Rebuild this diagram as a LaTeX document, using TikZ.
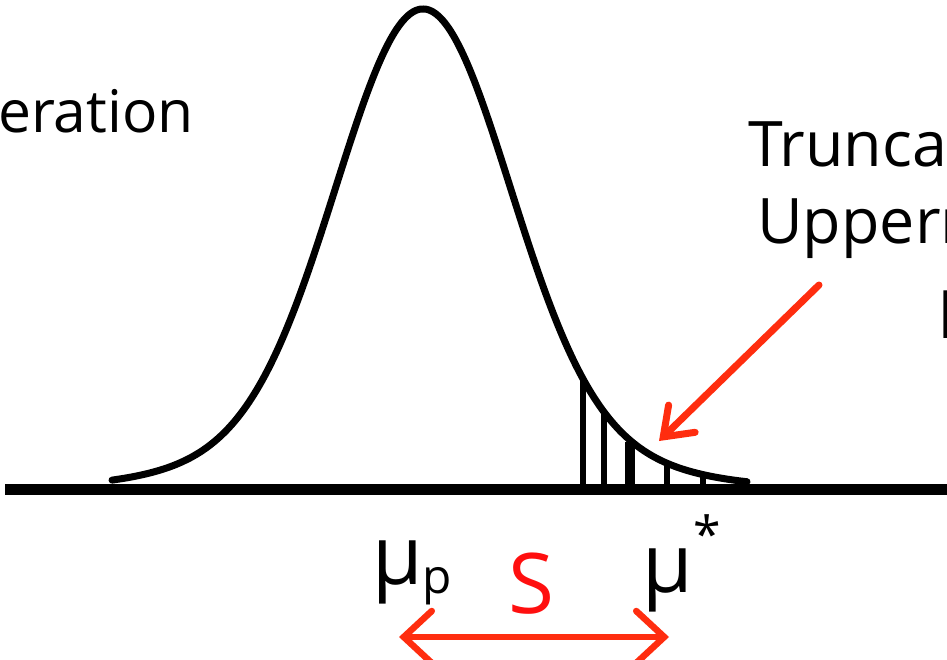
\documentclass[tikz,border=0pt]{standalone}
\usepackage{fontspec}
\setmainfont{Open Sans}
\usetikzlibrary{arrows.meta}
\definecolor{arrowred}{RGB}{255,45,15}
\definecolor{sred}{RGB}{255,15,15}
\tikzset{
  curveline/.style={line width=7bp, line cap=round, line join=round},
  axisline/.style={line width=11bp},
  hatchline/.style={line width=#1},
  redarrow/.style={draw=arrowred, line width=7bp, line cap=round,
    -{Straight Barb[length=26bp,width=38bp,line cap=round]}},
  sarrow/.style={draw=arrowred, line width=6.5bp, line cap=round,
    {Straight Barb[length=28bp,width=52bp,line cap=round]}-{Straight Barb[length=28bp,width=52bp,line cap=round]}},
  bigtext/.style={inner sep=0pt, anchor=base west, font=\fontsize{59}{70}\selectfont},
  righttext/.style={inner sep=0pt, anchor=base west, font=\fontsize{63}{70}\selectfont},
}
\begin{document}
\begin{tikzpicture}[x=1bp,y=-1bp]
\clip (0,0) rectangle (947,660);
\fill[white] (0,0) rectangle (947,660);
% axis
\coordinate (axL) at (5,489);
\coordinate (axR) at (960,489);
\draw[axisline] (axL) -- (axR);
% bell curve (heavy tailed)
\draw[curveline] plot[domain=112:747, samples=260, smooth]
  (\x,{489-480*(0.85*exp(-((\x-423)/85)^2/2)+0.15*exp(-((\x-423)/150)^2/2))});
% hatch lines
\foreach \hx/\hw in {583/6bp, 604/6bp, 630/10bp, 667/6.5bp, 703/6bp}{
  \pgfmathsetmacro\hy{489-480*(0.85*exp(-((\hx-423)/85)^2/2)+0.15*exp(-((\hx-423)/150)^2/2))+2}
  \draw[hatchline=\hw] (\hx,489) -- (\hx,\hy);
}
% texts
\node[bigtext] (gen) at (-2,133) {eration};
\node[righttext] (trunc) at (748,167) {Trunca};
\node[righttext] (upper) at (757,243) {Upperm};
\node[righttext] (lev) at (938,338) {l};
% red arrow to tail
\coordinate (ra) at (819,285);
\coordinate (rb) at (659,441);
\draw[redarrow] (ra) -- (rb);
% mu labels
\node[inner sep=0pt, anchor=base west] (mup) at (372,584)
  {\fontsize{82}{82}\selectfont μ\raisebox{-9bp}{\fontsize{48}{48}\selectfont p}};
\node[inner sep=0pt, anchor=base west] (mus) at (642,592)
  {\fontsize{82}{82}\selectfont μ\kern1bp\raisebox{40bp}{\fontsize{50}{50}\selectfont *}};
\node[inner sep=0pt, text=sred, font=\fontsize{84}{84}\selectfont] (S) at (531,584) {S};
% S double arrow
\coordinate (sL) at (399,637);
\coordinate (sR) at (669,637);
\draw[sarrow] (sL) -- (sR);
\end{tikzpicture}
\end{document}
